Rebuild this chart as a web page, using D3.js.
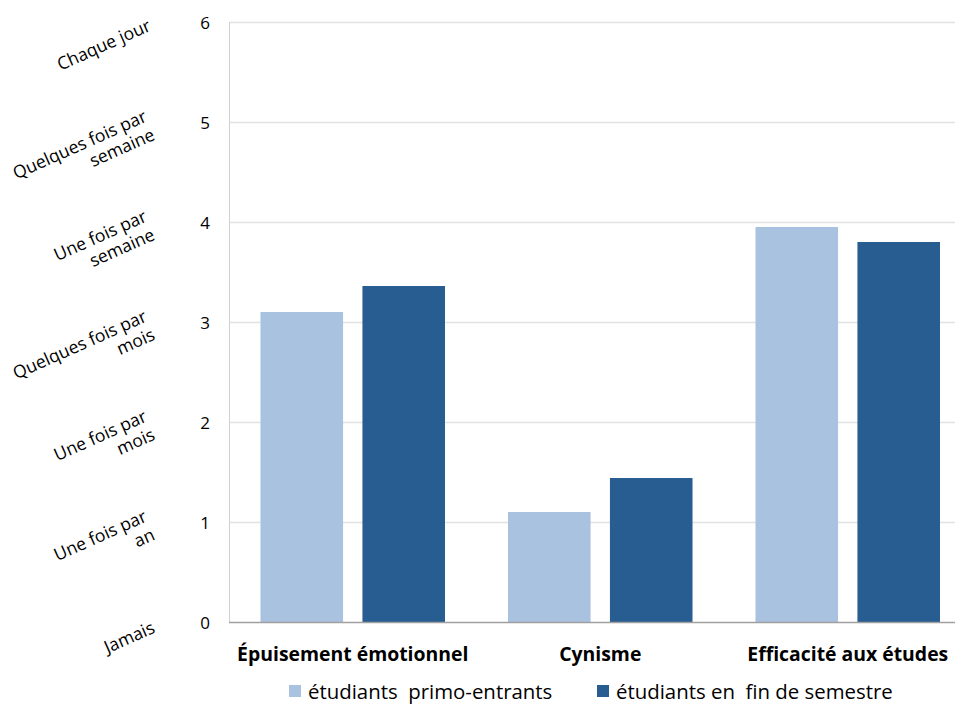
<!DOCTYPE html>
<html>
<head>
<meta charset="utf-8">
<script src="https://cdn.jsdelivr.net/npm/d3@7"></script>
<style>
  html, body { margin: 0; padding: 0; background: #fff; }
  svg { display: block; }
  text { font-family: "Open Sans", "Noto Sans", sans-serif; fill: #000; }
</style>
</head>
<body>
<svg id="chart" width="955" height="706"></svg>
<script>
// Burnout dimensions (MBI-SS) for two student groups
const categories = ["Épuisement émotionnel", "Cynisme", "Efficacité aux études"];
const seriesNames = ["étudiants  primo-entrants", "étudiants en  fin de semestre"];
const primoEntrants = [3.10, 1.10, 3.95];
const finSemestre = [3.36, 1.44, 3.80];
const yTicks = [0, 1, 2, 3, 4, 5, 6];
const frequencyLabels = [
  ["Jamais"],
  ["Une fois par", "an"],
  ["Une fois par", "mois"],
  ["Quelques fois par", "mois"],
  ["Une fois par", "semaine"],
  ["Quelques fois par", "semaine"],
  ["Chaque jour"]
];
const colors = ["#a8c2e0", "#275d90"];

const svg = d3.select("#chart");
const plotLeft = 229, plotTop = 22, plotBottom = 622, plotRight = 971.5;

const y = d3.scaleLinear().domain([0, 6]).range([plotBottom, plotTop]);
const x0 = d3.scaleBand().domain(categories).range([plotLeft, plotRight]).paddingInner(0).paddingOuter(0);
const x1 = d3.scaleBand().domain(seriesNames).range([31.5, x0.bandwidth() - 31.5]).paddingInner(0.19);

// horizontal gridlines
svg.append("g").selectAll("line").data(yTicks.filter(d => d > 0)).join("line")
  .attr("x1", plotLeft).attr("x2", plotRight)
  .attr("y1", d => y(d) + 0.5).attr("y2", d => y(d) + 0.5)
  .attr("stroke", "#e2e2e2").attr("stroke-width", 1.3);

// left axis line
svg.append("line")
  .attr("x1", plotLeft + 0.5).attr("x2", plotLeft + 0.5)
  .attr("y1", plotTop).attr("y2", plotBottom)
  .attr("stroke", "#cfcfcf").attr("stroke-width", 1);

// numeric ticks
const yAxis = d3.axisLeft(y).tickValues(yTicks).tickSize(0).tickPadding(0).tickFormat(d3.format("d"));
const gy = svg.append("g").attr("transform", `translate(${plotLeft - 19},0)`).call(yAxis);
gy.select(".domain").remove();
gy.selectAll("text")
  .attr("font-family", "'Open Sans', sans-serif")
  .attr("font-size", 17).attr("fill", "#000").attr("dy", "0.36em");

// frequency labels, rotated, right-aligned
const data = categories.map((c, i) => ({ cat: c, values: [primoEntrants[i], finSemestre[i]] }));
const lab = svg.append("g").selectAll("g").data(yTicks).join("g")
  .attr("transform", d => `translate(${d === 0 ? 156 : 152},${y(d) + (d === 0 ? 10 : 8)}) rotate(-24)`);
lab.each(function(d) {
  const lines = frequencyLabels[d];
  const g = d3.select(this);
  const lh = 20;
  lines.forEach((t, k) => {
    g.append("text")
      .attr("text-anchor", "end")
      .attr("font-size", 17.5)
      .attr("y", (k - (lines.length - 1) / 2) * lh)
      .text(t);
  });
});

// bars
const groups = svg.append("g").selectAll("g").data(data).join("g")
  .attr("transform", d => `translate(${x0(d.cat)},0)`);
groups.selectAll("rect")
  .data(d => d.values.map((v, i) => ({ s: seriesNames[i], v, i })))
  .join("rect")
  .attr("x", d => x1(d.s))
  .attr("width", x1.bandwidth())
  .attr("y", d => y(d.v))
  .attr("height", d => y(0) - y(d.v))
  .attr("fill", d => colors[d.i]);

// bottom axis line
svg.append("line")
  .attr("x1", plotLeft).attr("x2", plotRight)
  .attr("y1", plotBottom + 0.5).attr("y2", plotBottom + 0.5)
  .attr("stroke", "#a0a0a0").attr("stroke-width", 1.3);

// category labels
const xAxis = d3.axisBottom(x0).tickSize(0).tickPadding(0);
const gx = svg.append("g").attr("transform", `translate(0,${plotBottom + 39})`).call(xAxis);
gx.select(".domain").remove();
gx.selectAll("text")
  .attr("font-family", "'Open Sans', sans-serif")
  .attr("font-size", 19.4).attr("font-weight", "bold").attr("fill", "#000")
  .attr("dy", 0);

// legend
const legendX = [289, 597];
const lg = svg.append("g").selectAll("g").data(seriesNames).join("g")
  .attr("transform", (d, i) => `translate(${legendX[i]},685)`);
lg.append("rect").attr("width", 12).attr("height", 12).attr("fill", (d, i) => colors[i]);
lg.append("text").attr("x", 19).attr("y", 14)
  .attr("font-size", 20.4).style("white-space", "pre")
  .text(d => d);
</script>
</body>
</html>
